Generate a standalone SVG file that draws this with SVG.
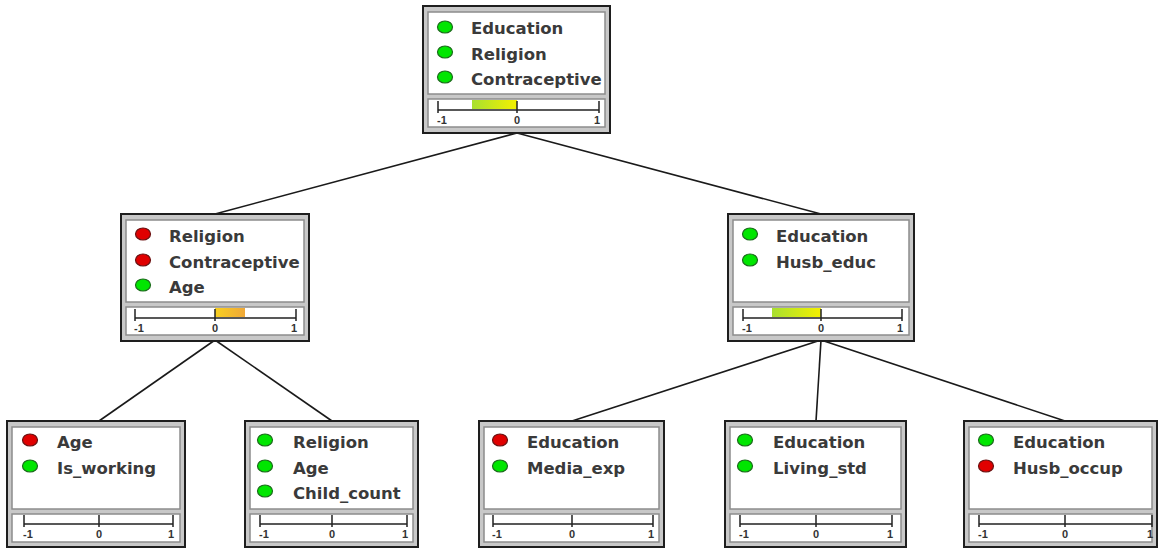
<svg xmlns="http://www.w3.org/2000/svg" width="1158" height="552" viewBox="0 0 1158 552">
<defs>
<linearGradient id="gy" x1="0" x2="1" y1="0" y2="0"><stop offset="0" stop-color="#a8e030"/><stop offset="1" stop-color="#f4f000"/></linearGradient>
<linearGradient id="yo" x1="0" x2="1" y1="0" y2="0"><stop offset="0" stop-color="#f8d020"/><stop offset="1" stop-color="#f0a838"/></linearGradient>
<style>
.frame{fill:#c8c8c8;stroke:#1e1e1e;stroke-width:2}
.panel{fill:#fff;stroke:#8c8c8c;stroke-width:1.5}
.lbl{font-family:"DejaVu Sans",sans-serif;font-weight:bold;font-size:16.5px;fill:#3a3a3a}
.sl{font-family:"Liberation Sans",Arial,sans-serif;font-weight:bold;font-size:11px;fill:#333}
.axis{stroke:#222;stroke-width:1.5;fill:none}
.g{fill:#00e600;stroke:#1a6a1a;stroke-width:1.2}
.r{fill:#e00000;stroke:#6a1010;stroke-width:1.2}
.edge{stroke:#1a1a1a;stroke-width:1.6;fill:none}
.m{text-anchor:middle}
.e{text-anchor:end}
</style>
</defs>
<g id="connectors">
<path class="edge" d="M517 133 L215 214"/>
<path class="edge" d="M517 133 L821 214"/>
<path class="edge" d="M215 340 L99 421"/>
<path class="edge" d="M215 340 L332 421"/>
<path class="edge" d="M821 340 L572 421"/>
<path class="edge" d="M821 340 L816 421"/>
<path class="edge" d="M821 340 L1065 421"/>
</g>
<g id="n-top" transform="translate(423,6)">
<rect class="frame" x="0" y="0" width="187" height="127"/>
<rect class="panel" x="5" y="6" width="177" height="82"/>
<rect class="panel" x="5" y="93" width="177" height="28"/>
<rect x="49" y="94" width="45" height="9" fill="url(#gy)"/>
<path class="axis" d="M15 104H176M15 95V107M94 95V107M176 95V107"/>
<text class="sl" x="14" y="118">-1</text><text class="sl m" x="94" y="118">0</text><text class="sl e" x="177" y="118">1</text>
<ellipse class="g" cx="22" cy="21" rx="7.5" ry="6"/><text class="lbl" x="48" y="28">Education</text>
<ellipse class="g" cx="22" cy="46" rx="7.5" ry="6"/><text class="lbl" x="48" y="54">Religion</text>
<ellipse class="g" cx="22" cy="71" rx="7.5" ry="6"/><text class="lbl" x="48" y="79">Contraceptive</text>
</g>
<g id="n-left" transform="translate(121,214)">
<rect class="frame" x="0" y="0" width="188" height="127"/>
<rect class="panel" x="5" y="6" width="178" height="82"/>
<rect class="panel" x="5" y="93" width="178" height="28"/>
<rect x="94" y="94" width="30" height="9" fill="url(#yo)"/>
<path class="axis" d="M14 104H175M14 95V107M94 95V107M175 95V107"/>
<text class="sl" x="13" y="118">-1</text><text class="sl m" x="94" y="118">0</text><text class="sl e" x="176" y="118">1</text>
<ellipse class="r" cx="22" cy="20" rx="7.5" ry="6"/><text class="lbl" x="48" y="28">Religion</text>
<ellipse class="r" cx="22" cy="46" rx="7.5" ry="6"/><text class="lbl" x="48" y="54">Contraceptive</text>
<ellipse class="g" cx="22" cy="71" rx="7.5" ry="6"/><text class="lbl" x="48" y="79">Age</text>
</g>
<g id="n-right" transform="translate(728,214)">
<rect class="frame" x="0" y="0" width="186" height="127"/>
<rect class="panel" x="5" y="6" width="176" height="82"/>
<rect class="panel" x="5" y="93" width="176" height="28"/>
<rect x="44" y="94" width="49" height="9" fill="url(#gy)"/>
<path class="axis" d="M15 104H174M15 95V107M93 95V107M174 95V107"/>
<text class="sl" x="14" y="118">-1</text><text class="sl m" x="93" y="118">0</text><text class="sl e" x="175" y="118">1</text>
<ellipse class="g" cx="22" cy="20" rx="7.5" ry="6"/><text class="lbl" x="48" y="28">Education</text>
<ellipse class="g" cx="22" cy="46" rx="7.5" ry="6"/><text class="lbl" x="48" y="54">Husb_educ</text>
</g>
<g id="n-b1" transform="translate(7,421)">
<rect class="frame" x="0" y="0" width="178" height="126"/>
<rect class="panel" x="5" y="6" width="168" height="82"/>
<rect class="panel" x="5" y="93" width="168" height="28"/>
<path class="axis" d="M17 103H166M17 94V106M92 94V106M166 94V106"/>
<text class="sl" x="16" y="117">-1</text><text class="sl m" x="92" y="117">0</text><text class="sl e" x="167" y="117">1</text>
<ellipse class="r" cx="23" cy="19" rx="7.5" ry="6"/><text class="lbl" x="50" y="27">Age</text>
<ellipse class="g" cx="23" cy="45" rx="7.5" ry="6"/><text class="lbl" x="50" y="53">Is_working</text>
</g>
<g id="n-b2" transform="translate(245,421)">
<rect class="frame" x="0" y="0" width="173" height="126"/>
<rect class="panel" x="5" y="6" width="163" height="82"/>
<rect class="panel" x="5" y="93" width="163" height="28"/>
<path class="axis" d="M15 103H162M15 94V106M87 94V106M162 94V106"/>
<text class="sl" x="14" y="117">-1</text><text class="sl m" x="87" y="117">0</text><text class="sl e" x="163" y="117">1</text>
<ellipse class="g" cx="20" cy="19" rx="7.5" ry="6"/><text class="lbl" x="48" y="27">Religion</text>
<ellipse class="g" cx="20" cy="45" rx="7.5" ry="6"/><text class="lbl" x="48" y="53">Age</text>
<ellipse class="g" cx="20" cy="70" rx="7.5" ry="6"/><text class="lbl" x="48" y="78">Child_count</text>
</g>
<g id="n-b3" transform="translate(479,421)">
<rect class="frame" x="0" y="0" width="185" height="126"/>
<rect class="panel" x="5" y="6" width="175" height="82"/>
<rect class="panel" x="5" y="93" width="175" height="28"/>
<path class="axis" d="M14 103H174M14 94V106M93 94V106M174 94V106"/>
<text class="sl" x="13" y="117">-1</text><text class="sl m" x="93" y="117">0</text><text class="sl e" x="175" y="117">1</text>
<ellipse class="r" cx="21" cy="19" rx="7.5" ry="6"/><text class="lbl" x="48" y="27">Education</text>
<ellipse class="g" cx="21" cy="45" rx="7.5" ry="6"/><text class="lbl" x="48" y="53">Media_exp</text>
</g>
<g id="n-b4" transform="translate(725,421)">
<rect class="frame" x="0" y="0" width="181" height="126"/>
<rect class="panel" x="5" y="6" width="171" height="82"/>
<rect class="panel" x="5" y="93" width="171" height="28"/>
<path class="axis" d="M15 103H167M15 94V106M91 94V106M167 94V106"/>
<text class="sl" x="14" y="117">-1</text><text class="sl m" x="91" y="117">0</text><text class="sl e" x="168" y="117">1</text>
<ellipse class="g" cx="20" cy="19" rx="7.5" ry="6"/><text class="lbl" x="48" y="27">Education</text>
<ellipse class="g" cx="20" cy="45" rx="7.5" ry="6"/><text class="lbl" x="48" y="53">Living_std</text>
</g>
<g id="n-b5" transform="translate(964,421)">
<rect class="frame" x="0" y="0" width="193" height="126"/>
<rect class="panel" x="5" y="6" width="183" height="82"/>
<rect class="panel" x="5" y="93" width="183" height="28"/>
<path class="axis" d="M15 103H188M15 94V106M101 94V106M188 94V106"/>
<text class="sl" x="14" y="117">-1</text><text class="sl m" x="101" y="117">0</text><text class="sl e" x="189" y="117">1</text>
<ellipse class="g" cx="22" cy="19" rx="7.5" ry="6"/><text class="lbl" x="49" y="27">Education</text>
<ellipse class="r" cx="22" cy="45" rx="7.5" ry="6"/><text class="lbl" x="49" y="53">Husb_occup</text>
</g>
</svg>
